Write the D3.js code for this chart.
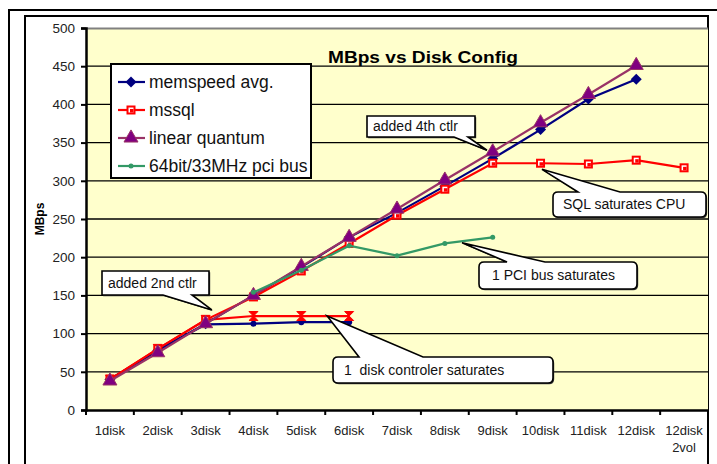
<!DOCTYPE html>
<meta charset="utf-8">
<script src="https://d3js.org/d3.v7.min.js"></script>
<style>
  body { margin: 0; background: white; }
  text { font-family: "Liberation Sans", Arial, sans-serif; }
</style>
<div id="chart"></div>
<script>
// chart data
var categories = ["1disk", "2disk", "3disk", "4disk", "5disk", "6disk", "7disk",
                  "8disk", "9disk", "10disk", "11disk", "12disk", "12disk\n2vol"];
var yTicks = [0, 50, 100, 150, 200, 250, 300, 350, 400, 450, 500];

var memspeed = [40, 78, 113, 150, 187, 226, 258, 293, 329, 367, 407, 433];
var mssql = [40, 80, 118, 148, 182, 218, 255, 289, 323, 323, 322, 327, 317];
var linearQuantum = [38, 75, 113, 150, 188, 226, 263, 301, 338, 376, 413, 451];
var pciBus = [null, null, null, 154, 183, 215, 202, 218, 226];
var memspeed1ctlr = [40, 78, 112, 113, 115, 115];
var mssql1ctlr = [40, 80, 118, 123, 123, 123];

var notes = [
  {text: "added 2nd ctlr", at: 2.13, value: 131},
  {text: "added 4th ctlr", at: 7.88, value: 340},
  {text: "SQL saturates CPU", at: 9.03, value: 315},
  {text: "1 PCI bus saturates", at: 7.36, value: 219},
  {text: "1  disk controler saturates", at: 4.54, value: 123}
];

var W = 717, H = 464;
var margin = {top: 28, right: 9, bottom: 54, left: 86},
    width = W - margin.left - margin.right,
    height = H - margin.top - margin.bottom;

var svg = d3.select("#chart").append("svg")
    .attr("width", W).attr("height", H);

// outer frames
svg.append("path").attr("d", "M9,464 L9,10 L717,10")
    .attr("fill", "none").attr("stroke", "black").attr("stroke-width", 2);
svg.append("path").attr("d", "M25,464 L25,16 L708,16 L708,464")
    .attr("fill", "none").attr("stroke", "black").attr("stroke-width", 2);

var g = svg.append("g").attr("transform", "translate(" + margin.left + "," + margin.top + ")");

var x = d3.scaleBand().domain(categories).range([0, width]).padding(0);
var y = d3.scaleLinear().domain([0, 500]).range([height, 0]);
var xc = function(i) { return x(categories[Math.floor(i)]) + x.bandwidth() * (0.5 + i - Math.floor(i)); };

g.append("rect").attr("width", width).attr("height", height).attr("fill", "#ffffcc");
g.append("line").attr("x1", 0).attr("x2", width).attr("y1", 0.5).attr("y2", 0.5)
    .attr("stroke", "#808080").attr("stroke-width", 2);

// grid
g.selectAll(".grid").data(yTicks.filter(function(d) { return d > 0 && d < 500; }))
  .enter().append("line")
    .attr("x1", 0).attr("x2", width)
    .attr("y1", function(d) { return y(d); }).attr("y2", function(d) { return y(d); })
    .attr("stroke", "black").attr("stroke-width", 1.3);

// axes
var yAxis = g.append("g").call(d3.axisLeft(y).tickValues(yTicks).tickSize(5).tickPadding(6));
yAxis.select(".domain").attr("stroke-width", 2.5);
yAxis.selectAll(".tick line").attr("stroke-width", 2);
yAxis.selectAll("text").attr("font-size", 13.5).attr("fill", "#222")
    .style("font-family", "'Liberation Sans', Arial, sans-serif");

var xAxis = g.append("g").attr("transform", "translate(0," + height + ")")
    .call(d3.axisBottom(x).tickSize(0).tickFormat(""));
xAxis.select(".domain").attr("stroke-width", 2.5);
g.append("g").selectAll("line").data(d3.range(categories.length + 1))
  .enter().append("line")
    .attr("x1", function(i) { return i * x.bandwidth(); })
    .attr("x2", function(i) { return i * x.bandwidth(); })
    .attr("y1", height).attr("y2", height + 5)
    .attr("stroke", "black").attr("stroke-width", 2);
categories.forEach(function(c) {
  var t = g.append("text").attr("x", x(c) + x.bandwidth() / 2).attr("y", height + 25)
      .attr("text-anchor", "middle").attr("font-size", 13).attr("fill", "#222");
  c.split("\n").forEach(function(p, k) {
    t.append("tspan").attr("x", x(c) + x.bandwidth() / 2).attr("dy", k ? 17 : 0).text(p);
  });
});

svg.append("text").attr("transform", "translate(44," + (margin.top + height / 2) + ") rotate(-90)")
    .attr("text-anchor", "middle").attr("font-size", 12).attr("font-weight", "bold").text("MBps");

svg.append("text").attr("x", 423).attr("y", 63).attr("text-anchor", "middle")
    .attr("font-size", 17).attr("font-weight", "bold")
    .attr("textLength", 190).attr("lengthAdjust", "spacingAndGlyphs")
    .text("MBps vs Disk Config");

// markers
function diamond(sel, color) {
  sel.append("path").attr("d", "M0,-5.5L5.5,0L0,5.5L-5.5,0Z").attr("fill", color);
}
function square(sel, color) {
  sel.append("rect").attr("x", -4.5).attr("y", -4.5).attr("width", 9).attr("height", 9).attr("fill", color);
  sel.append("rect").attr("x", -2.5).attr("y", -2.5).attr("width", 5).attr("height", 5).attr("fill", "white");
  sel.append("rect").attr("x", -1).attr("y", -1).attr("width", 3.5).attr("height", 3.5).attr("fill", color);
}
function triangle(sel, color) {
  sel.append("path").attr("d", d3.symbol(d3.symbolTriangle, 85)()).attr("fill", "#800080")
      .attr("stroke", color).attr("stroke-width", 1);
}
function dot(r) {
  return function(sel, color) { sel.append("circle").attr("r", r).attr("fill", color); };
}
function hourglass(sel, color) {
  sel.append("path").attr("d", "M-4.5,-4.5L4.5,-4.5L-4.5,4.5L4.5,4.5Z").attr("fill", color)
      .attr("stroke", color).attr("stroke-width", 1);
}

var series = [
  {values: memspeed1ctlr, color: "#000080", marker: dot(3)},
  {values: mssql1ctlr, color: "#ff0000", marker: hourglass},
  {values: memspeed, color: "#000080", marker: diamond},
  {values: mssql, color: "#ff0000", marker: square},
  {values: linearQuantum, color: "#993366", marker: triangle},
  {values: pciBus, color: "#339966", marker: dot(2.5)}
];

var line = d3.line()
    .defined(function(d) { return d != null; })
    .x(function(d, i) { return xc(i); })
    .y(function(d) { return y(d); });

series.forEach(function(s) {
  g.append("path").datum(s.values).attr("d", line)
      .attr("fill", "none").attr("stroke", s.color).attr("stroke-width", 2.2);
  s.values.forEach(function(v, i) {
    if (v == null) return;
    var m = g.append("g").attr("transform", "translate(" + xc(i) + "," + y(v) + ")");
    s.marker(m, s.color);
  });
});

// legend
var legendItems = [
  {label: "memspeed avg.", color: "#000080", marker: diamond},
  {label: "mssql", color: "#ff0000", marker: square},
  {label: "linear quantum", color: "#993366", marker: triangle},
  {label: "64bit/33MHz pci bus", color: "#339966", marker: dot(2.5)}
];
var lg = svg.append("g");
lg.append("rect").attr("x", 111).attr("y", 64).attr("width", 200).attr("height", 114)
    .attr("fill", "white").attr("stroke", "black").attr("stroke-width", 2);
legendItems.forEach(function(d, k) {
  var yy = 82 + k * 28;
  lg.append("line").attr("x1", 118).attr("x2", 145).attr("y1", yy).attr("y2", yy)
      .attr("stroke", d.color).attr("stroke-width", 2.2);
  d.marker(lg.append("g").attr("transform", "translate(131," + yy + ")"), d.color);
  lg.append("text").attr("x", 149).attr("y", yy + 6).attr("font-size", 17.5).attr("fill", "#111").text(d.label);
});

// callouts
var boxes = [
  {x0: 102, y0: 271, x1: 209, y1: 295, edge: "bottom", b1: 163, b2: 192, r: 0, tx: 108, ty: 288},
  {x0: 367, y0: 116, x1: 475, y1: 137, edge: "bottom", b1: 454, b2: 468, r: 0, tx: 373, ty: 131},
  {x0: 553, y0: 192, x1: 706, y1: 217, edge: "top", b1: 578, b2: 620, r: 5, tx: 563, ty: 209},
  {x0: 479, y0: 262, x1: 637, y1: 289, edge: "top", b1: 507, b2: 545, r: 5, tx: 492, ty: 280},
  {x0: 333, y0: 357, x1: 553, y1: 383, edge: "top", b1: 359, b2: 423, r: 5, tx: 344, ty: 375}
];

function calloutPath(b, tip) {
  var r = b.r, p = d3.path();
  p.moveTo(b.x0 + r, b.y0);
  if (b.edge === "top") { p.lineTo(b.b1, b.y0); p.lineTo(tip[0], tip[1]); p.lineTo(b.b2, b.y0); }
  p.lineTo(b.x1 - r, b.y0);
  p.quadraticCurveTo(b.x1, b.y0, b.x1, b.y0 + r);
  p.lineTo(b.x1, b.y1 - r);
  p.quadraticCurveTo(b.x1, b.y1, b.x1 - r, b.y1);
  if (b.edge === "bottom") { p.lineTo(b.b2, b.y1); p.lineTo(tip[0], tip[1]); p.lineTo(b.b1, b.y1); }
  p.lineTo(b.x0 + r, b.y1);
  p.quadraticCurveTo(b.x0, b.y1, b.x0, b.y1 - r);
  p.lineTo(b.x0, b.y0 + r);
  p.quadraticCurveTo(b.x0, b.y0, b.x0 + r, b.y0);
  p.closePath();
  return p.toString();
}

notes.forEach(function(n, k) {
  var b = boxes[k];
  var tip = [margin.left + xc(n.at), margin.top + y(n.value)];
  svg.append("path").attr("d", calloutPath(b, tip)).attr("transform", "translate(1.2,1.2)")
      .attr("fill", "#444").attr("stroke", "none");
  svg.append("path").attr("d", calloutPath(b, tip))
      .attr("fill", "white").attr("stroke", "black").attr("stroke-width", 1.6);
  svg.append("text").attr("x", b.tx).attr("y", b.ty).attr("font-size", 14).attr("fill", "#111")
      .style("white-space", "pre").text(n.text);
});
</script>
